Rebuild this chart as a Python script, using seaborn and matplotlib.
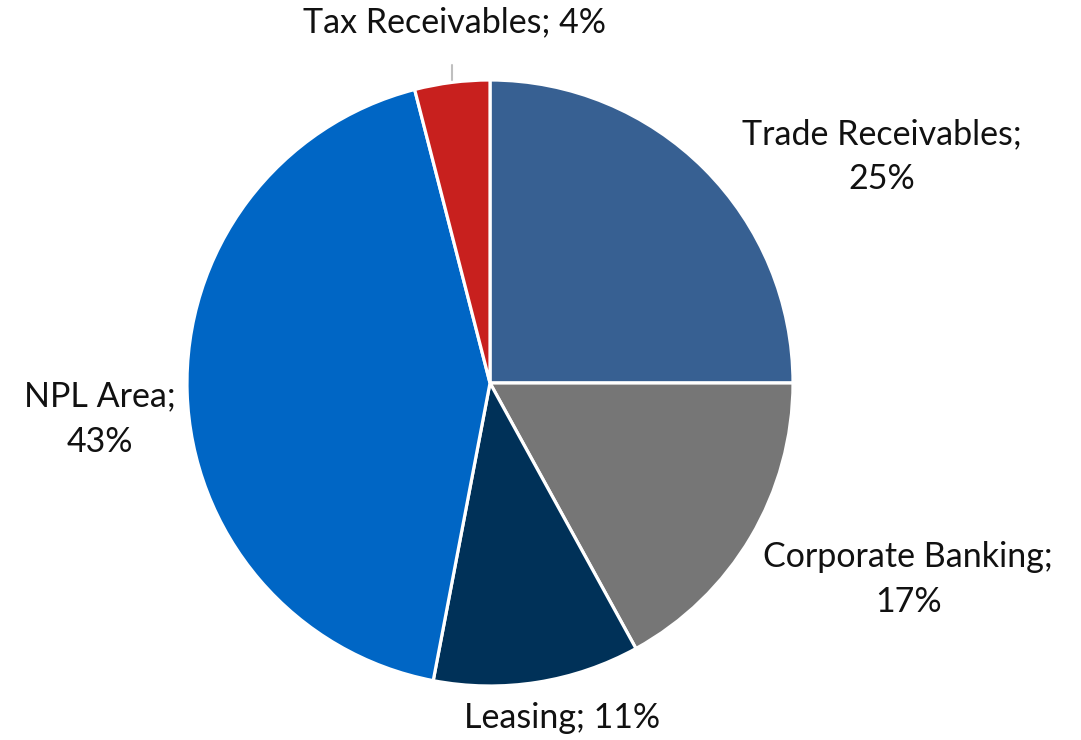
import numpy as np
import matplotlib
matplotlib.use("Agg")
import matplotlib.pyplot as plt
import seaborn as sns

# Portfolio breakdown by area
categories = ["Trade Receivables", "Corporate Banking", "Leasing", "NPL Area", "Tax Receivables"]
shares = [25, 17, 11, 43, 4]
colors = ["#376092", "#767676", "#003158", "#0066C5", "#C8201E"]

# Label text lines (Excel-style "Category; value%" wrapping)
label_texts = [
    "Trade Receivables;\n25%",
    "Corporate Banking;\n17%",
    "Leasing; 11%",
    "NPL Area;\n43%",
    "Tax Receivables; 4%",
]
# Label anchor positions in pie radius units
label_pos = [(1.294, 0.746), (1.380, -0.650), (0.238, -1.106), (-1.287, -0.119), (-0.116, 1.191)]

sns.set_theme(style="white")
plt.rcParams["font.family"] = ["Lato", "DejaVu Sans"]

W, H = 1081, 740
fig = plt.figure(figsize=(W / 100, H / 100), dpi=100)
cx, cy, r = 490, 383, 303
ax = fig.add_axes([(cx - r) / W, (H - cy - r) / H, 2 * r / W, 2 * r / H])

wedges, _ = ax.pie(
    shares,
    colors=colors,
    startangle=90,
    counterclock=False,
    radius=1.0,
    wedgeprops=dict(edgecolor="white", linewidth=2.3),
)
ax.set_xlim(-1, 1)
ax.set_ylim(-1, 1)
ax.set_aspect("equal")
ax.axis("off")

for txt, (lx, ly) in zip(label_texts, label_pos):
    ax.text(lx, ly, txt, ha="center", va="center", fontsize=24.5,
            color="#111111", linespacing=1.5, clip_on=False)

# Vertical leader line for the small Tax Receivables slice
w = wedges[4]
mid = np.deg2rad((w.theta1 + w.theta2) / 2)
lx = np.cos(mid)
ax.plot([lx, lx], [1.0, 1.05], color="#BFBFBF", lw=1.5, clip_on=False)

fig.savefig("out.png", dpi=100)
